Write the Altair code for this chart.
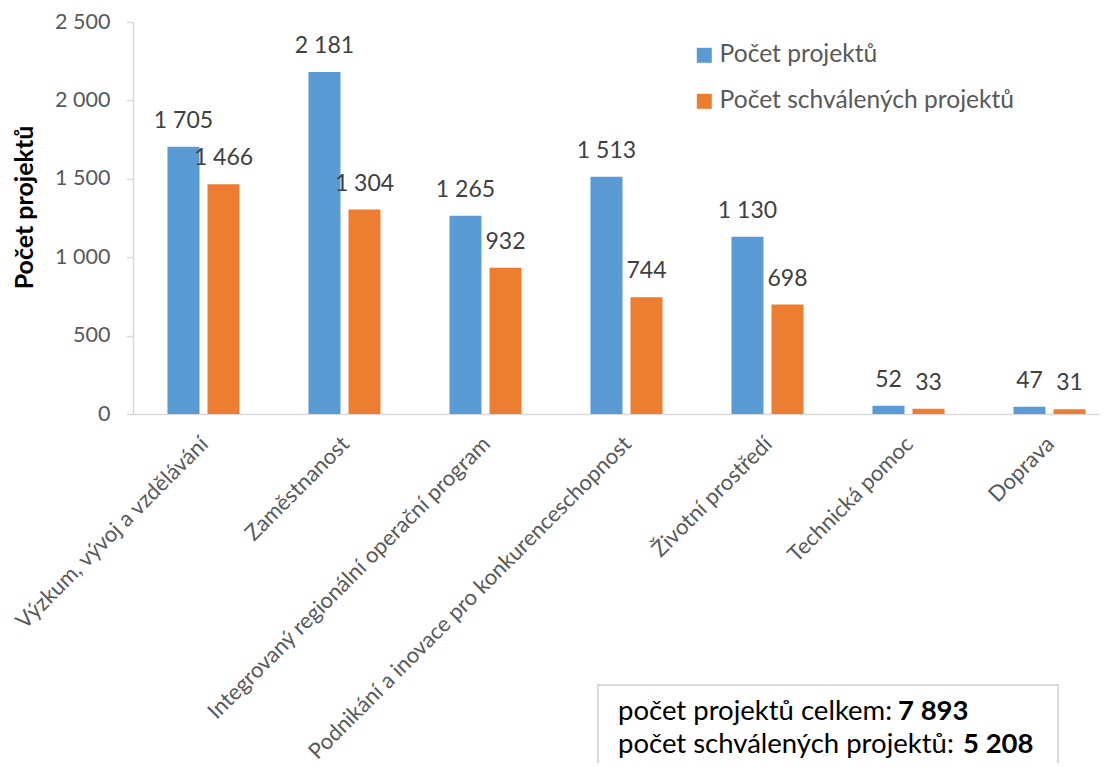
import altair as alt
import pandas as pd

categories = [
    "Výzkum, vývoj a vzdělávání",
    "Zaměstnanost",
    "Integrovaný regionální operační program",
    "Podnikání a inovace pro konkurenceschopnost",
    "Životní prostředí",
    "Technická pomoc",
    "Doprava",
]
pocet_projektu = [1705, 2181, 1265, 1513, 1130, 52, 47]
pocet_schvalenych = [1466, 1304, 932, 744, 698, 33, 31]
series = ["Počet projektů", "Počet schválených projektů"]
colors = ["#5B9BD5", "#ED7D31"]
y_ticks = [0, 500, 1000, 1500, 2000, 2500]
box_texts = ["počet projektů celkem:", "počet schválených projektů:"]
box_values = ["7 893", "5 208"]

rows = []
for c, a, b in zip(categories, pocet_projektu, pocet_schvalenych):
    rows.append({"kategorie": c, "rada": series[0], "hodnota": a})
    rows.append({"kategorie": c, "rada": series[1], "hodnota": b})
df = pd.DataFrame(rows)
df["popisek"] = df["hodnota"].map(lambda v: f"{v:,}".replace(",", " "))

FONT = "Lato"
W, H = 967, 392
GRAY = "#595959"
AXIS_LINE = "#d9d9d9"

x_enc = alt.X(
    "kategorie:N",
    sort=categories,
    scale=alt.Scale(range=[0, 987], paddingInner=0.489, paddingOuter=0.2445),
    axis=alt.Axis(
        title=None,
        labelAngle=-45,
        labelFont=FONT,
        labelFontSize=22,
        labelColor=GRAY,
        labelPadding=19,
        labelOffset=-6,
        labelLimit=0,
        ticks=False,
        domainColor=AXIS_LINE,
        domainWidth=1.5,
    ),
)
xoff_enc = alt.XOffset(
    "rada:N", sort=series, scale=alt.Scale(paddingInner=0.2, paddingOuter=0)
)
y_enc = alt.Y(
    "hodnota:Q",
    scale=alt.Scale(domain=[0, 2500], nice=False),
    axis=alt.Axis(
        values=y_ticks,
        labelExpr="replace(format(datum.value, ','), ',', ' ')",
        title="Počet projektů",
        titleFont=FONT,
        titleFontSize=25,
        titleFontWeight="bold",
        titleColor="black",
        titleAngle=-90,
        titleX=-101,
        titleY=185,
        titleAlign="center",
        titleBaseline="alphabetic",
        labelFont=FONT,
        labelFontSize=21.5,
        labelColor=GRAY,
        labelPadding=16,
        tickSize=7,
        tickColor=AXIS_LINE,
        tickWidth=1.5,
        domainColor=AXIS_LINE,
        domainWidth=1.5,
        grid=False,
    ),
)

base = alt.Chart(df)
bars = base.mark_bar().encode(
    x=x_enc,
    xOffset=xoff_enc,
    y=y_enc,
    color=alt.Color(
        "rada:N",
        sort=series,
        scale=alt.Scale(domain=series, range=colors),
        legend=alt.Legend(
            title=None,
            orient="none",
            legendX=559,
            legendY=21,
            symbolType="square",
            symbolSize=225,
            symbolStrokeWidth=0,
            symbolOpacity=1,
            labelFont=FONT,
            labelFontSize=24.6,
            labelColor=GRAY,
            labelLimit=0,
            rowPadding=21,
            labelOffset=3,
            padding=0,
        ),
    ),
)
labels = base.mark_text(
    baseline="alphabetic", dy=-19, font=FONT, fontSize=23, color="#404040"
).encode(x=x_enc, xOffset=xoff_enc, y=y_enc, text="popisek:N")

one = alt.Chart(pd.DataFrame({"k": [0]}))
box = one.mark_rect(fill="white", stroke=AXIS_LINE, strokeWidth=2).encode(
    x=alt.value(465), x2=alt.value(925), y=alt.value(663), y2=alt.value(800)
)
bold_x = [765, 830]
txt_layers = []
for i, (t, v) in enumerate(zip(box_texts, box_values)):
    yy = 698 + 33 * i
    txt_layers.append(
        one.mark_text(
            align="left", baseline="alphabetic", font=FONT, fontSize=27.5, color="black"
        ).encode(x=alt.value(485), y=alt.value(yy), text=alt.value(t))
    )
    txt_layers.append(
        one.mark_text(
            align="left",
            baseline="alphabetic",
            font=FONT,
            fontSize=27.5,
            fontWeight="bold",
            color="black",
        ).encode(x=alt.value(bold_x[i]), y=alt.value(yy), text=alt.value(v))
    )

chart = (
    alt.layer(bars, labels, box, *txt_layers)
    .properties(
        width=W,
        height=H,
        autosize=alt.AutoSizeParams(type="none"),
        padding={"left": 125, "top": 14, "right": 0, "bottom": 349},
        background="white",
    )
    .configure_view(stroke=None)
)
chart.save("out.html", embed_options={"renderer": "svg", "actions": False})
